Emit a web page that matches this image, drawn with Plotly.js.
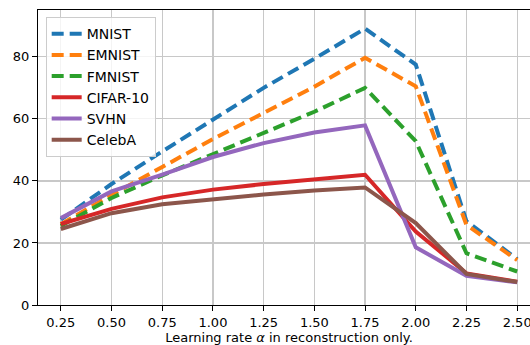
<!DOCTYPE html>
<html><head><meta charset="utf-8">
<script src="https://cdn.plot.ly/plotly-3.0.1.min.js"></script>
<style>html,body{margin:0;padding:0;overflow:hidden;background:#fff}#c{width:545px;height:345px}</style>
</head><body><div id="c"></div>
<script>
const xs = [0.25, 0.50, 0.75, 1.00, 1.25, 1.50, 1.75, 2.00, 2.25, 2.50];
const tickLabels = ["0.25","0.50","0.75","1.00","1.25","1.50","1.75","2.00","2.25","2.50"];
const mnist  = [27.5, 39.0, 49.5, 59.8, 70.0, 79.4, 89.1, 77.5, 27.0, 14.8];
const emnist = [26.0, 35.5, 44.5, 53.5, 61.9, 70.4, 79.7, 70.5, 25.8, 14.5];
const fmnist = [25.5, 34.5, 41.8, 48.7, 55.5, 62.3, 70.0, 52.8, 16.7, 10.8];
const cifar  = [26.1, 31.0, 34.7, 37.2, 39.0, 40.6, 42.0, 23.7, 10.2, 7.5];
const svhn   = [28.0, 36.6, 42.0, 47.7, 52.2, 55.6, 57.9, 18.6, 9.4, 7.3];
const celeba = [24.5, 29.6, 32.5, 34.1, 35.6, 36.9, 37.9, 26.4, 10.0, 7.4];

const names  = ["MNIST","EMNIST","FMNIST","CIFAR-10","SVHN","CelebA"];
const series = [mnist, emnist, fmnist, cifar, svhn, celeba];
const colors = ["#1f77b4","#ff7f0e","#2ca02c","#d62728","#9467bd","#8c564b"];
const dashes = ["12px,6px","12px,6px","12px,6px","solid","solid","solid"];

const traces = series.map((ys, i) => ({
  x: xs, y: ys, name: names[i], type: "scatter", mode: "lines",
  line: {color: colors[i], width: 4, dash: dashes[i]}
}));

const font = {family: "DejaVu Sans", size: 13, color: "#000"};
const layout = {
  width: 545, height: 345,
  margin: {l: 38, r: 5, t: 10, b: 40},
  paper_bgcolor: "#fff", plot_bgcolor: "#fff",
  font: font,
  showlegend: true,
  legend: {x: 0.0153, y: 0.976, xanchor: "left", yanchor: "top",
           bgcolor: "rgba(255,255,255,0.8)", bordercolor: "#cccccc", borderwidth: 1,
           font: {family: "DejaVu Sans", size: 14, color: "#000"}},
  xaxis: {range: [0.1375, 2.6125], tickvals: xs, ticktext: tickLabels,
          showgrid: true, gridcolor: "#c8c8c8", gridwidth: 1.2,
          zeroline: false, showline: true, linecolor: "#000", linewidth: 1, mirror: true,
          ticks: "outside", ticklen: 5, tickcolor: "#000",
          tickfont: font,
          title: {text: "Learning rate <i>α</i> in reconstruction only.", font: font, standoff: 6}},
  yaxis: {range: [0, 95.1], tickvals: [0,20,40,60,80],
          showgrid: true, gridcolor: "#c8c8c8", gridwidth: 1.2,
          zeroline: false, showline: true, linecolor: "#000", linewidth: 1, mirror: true,
          ticks: "outside", ticklen: 5, tickcolor: "#000",
          tickfont: font}
};
Plotly.newPlot("c", traces, layout, {displayModeBar: false, staticPlot: true});
</script></body></html>
